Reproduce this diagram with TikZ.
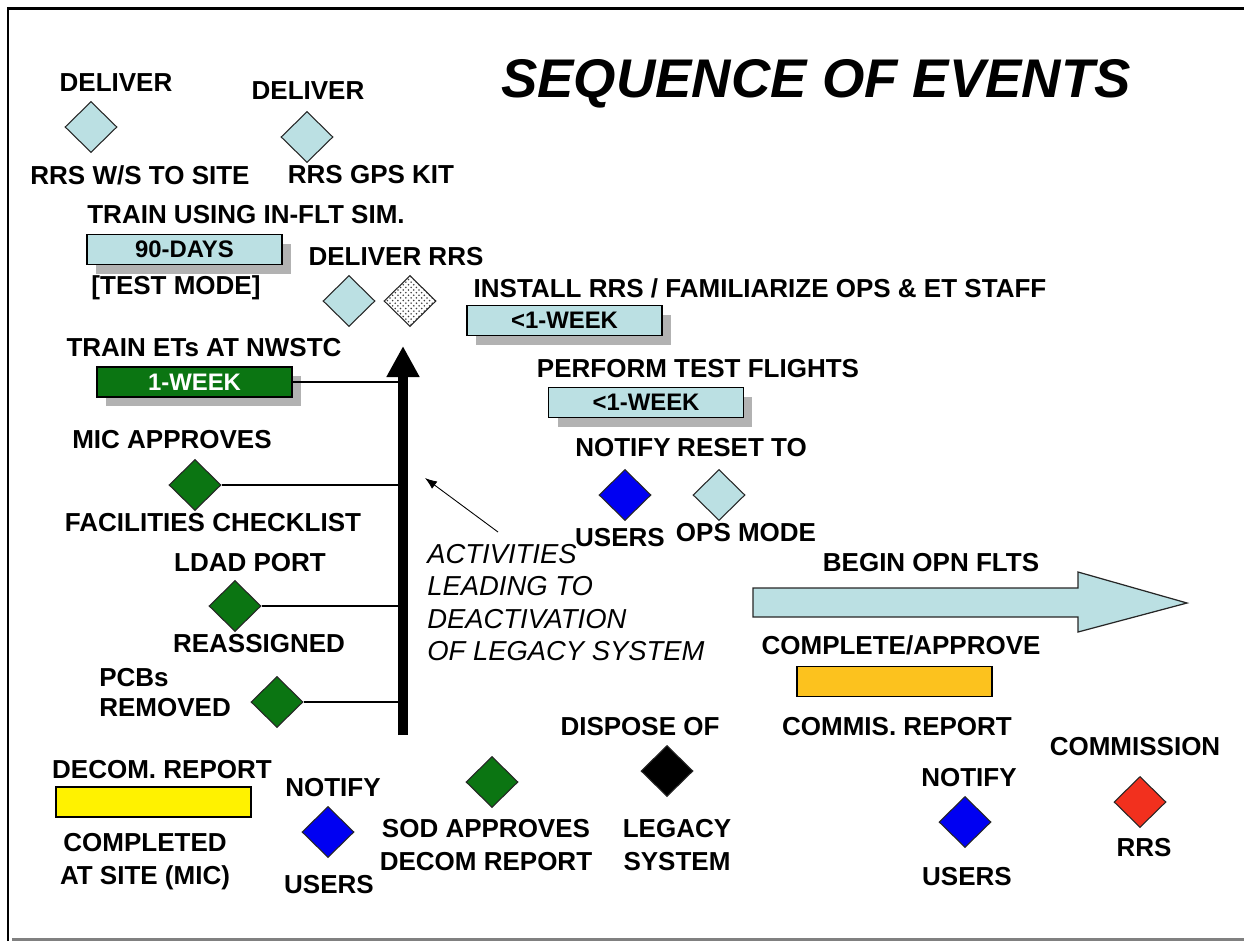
\documentclass[tikz,border=0pt]{standalone}
\usepackage{fontspec}
\setmainfont{Liberation Sans}
\usetikzlibrary{arrows.meta, positioning, shapes.geometric, shadows, patterns}
\definecolor{paleblue}{HTML}{BBE0E3}
\definecolor{dkgreen}{HTML}{0B7512}
\definecolor{pureblue}{HTML}{0000F2}
\definecolor{redevent}{HTML}{F2301E}
\definecolor{amber}{HTML}{FCC21E}

\begin{document}
\begin{tikzpicture}[
    x=0.02cm, y=-0.02cm,
    every node/.style={inner sep=0pt},
    lbl/.style={font=\bfseries\fontsize{14.8}{19}\selectfont},
    evt/.style={diamond, draw=black!85, line width=0.6pt, minimum width=1.04cm, minimum height=1.02cm},
    weekbar/.style={draw=black, line width=1.1pt, minimum width=3.9cm, minimum height=0.6cm, font=\bfseries\fontsize{13.6}{16}\selectfont},
    dropped/.style={drop shadow={shadow xshift=0.18cm, shadow yshift=-0.18cm, fill=black!30, opacity=1}},
    tieline/.style={draw=black, line width=0.7pt}
]
\useasboundingbox (0,0) rectangle (1244,941);
% frame
\draw[line width=1.7pt] (8,941) -- (8,8.5) -- (1244,8.5);
\draw[black!50, line width=1.5pt] (12,939.5) -- (1244,939.5);

\node[font=\bfseries\itshape\fontsize{31}{36}\selectfont] (title) at (816,84) {SEQUENCE OF EVENTS};

% deliveries and training
\node[lbl] (dlv1) at (116,83) {DELIVER};
\node[evt, fill=paleblue] (ws) at (91,127) {};
\node[lbl] (wslbl) at (140,175) {RRS W/S TO SITE};
\node[lbl] (dlv2) at (308,91) {DELIVER};
\node[evt, fill=paleblue] (gps) at (307,137) {};
\node[lbl] (gpslbl) at (371,175) {RRS GPS KIT};
\node[lbl] (sim) at (246,215) {TRAIN USING IN-FLT SIM.};
\node[weekbar, dropped, fill=paleblue] (days) at (184.5,249.5) {90-DAYS};
\node[lbl] (test) at (176,288) {[TEST MODE]};
\node[lbl] (dlv3) at (396,257) {DELIVER RRS};
\node[evt, fill=paleblue] (rrs) at (349,301) {};
\node[evt, pattern=crosshatch dots, pattern color=black!75] (rrsd) at (410,301) {};
\node[lbl] (inst) at (760,288) {INSTALL RRS / FAMILIARIZE OPS \& ET STAFF};
\node[weekbar, dropped, fill=paleblue] (wk1) at (564.5,320.5) {<1-WEEK};
\node[lbl] (perf) at (698,369) {PERFORM TEST FLIGHTS};
\node[weekbar, dropped, fill=paleblue] (wk2) at (646,402.5) {<1-WEEK};
\node[lbl] (ntf1) at (623,448) {NOTIFY};
\node[evt, fill=pureblue] (usr1) at (625,495) {};
\node[lbl] (usr1lbl) at (620,538) {USERS};
\node[lbl] (rst) at (742,448) {RESET TO};
\node[evt, fill=paleblue] (ops) at (719,495) {};
\node[lbl] (opslbl) at (746,533) {OPS MODE};

% legacy system activities
\node[lbl] (ets) at (204,348) {TRAIN ETs AT NWSTC};
\node[weekbar, dropped, fill=dkgreen, text=white] (etw) at (194.5,382) {1-WEEK};
\node[lbl] (mic) at (172,440) {MIC APPROVES};
\node[evt, fill=dkgreen] (fac) at (195,485) {};
\node[lbl] (faclbl) at (213,523) {FACILITIES CHECKLIST};
\node[lbl] (ldad) at (250,563) {LDAD PORT};
\node[evt, fill=dkgreen] (port) at (235,606) {};
\node[lbl] (rea) at (259,644) {REASSIGNED};
\node[lbl, font=\bfseries\fontsize{14.8}{17}\selectfont, align=left, anchor=north west] (pcb) at (99,668) {PCBs\\REMOVED};
\node[evt, fill=dkgreen] (pcbd) at (277,702) {};

\coordinate (abot) at (403,735);
\coordinate (atop) at (403,346);
\draw[line width=0.21cm, -{Triangle[length=0.62cm, width=0.62cm]}] (abot) -- (atop);

\draw[tieline] (etw.east) -- (etw.east -| abot);
\draw[tieline] (fac.east) -- (fac.east -| abot);
\draw[tieline] (port.east) -- (port.east -| abot);
\draw[tieline] (pcbd.east) -- (pcbd.east -| abot);

\node[font=\itshape\fontsize{15.6}{18.4}\selectfont, align=left, anchor=north west] (act) at (427,544) {ACTIVITIES\\LEADING TO\\DEACTIVATION\\OF LEGACY SYSTEM};
\coordinate (actfrom) at (498,532);
\coordinate (actto) at (425,478);
\draw[line width=0.5pt, -{Latex[length=0.24cm, width=0.18cm]}] (actfrom) -- (actto);

% operations
\node[lbl] (opn) at (931,563) {BEGIN OPN FLTS};
\draw[fill=paleblue, draw=black!85, line width=0.7pt] (753,588) -- (1078,588) -- (1078,572) -- (1187,603) -- (1078,632) -- (1078,617) -- (753,617) -- cycle;
\node[lbl] (cpa) at (901,645) {COMPLETE/APPROVE};
\node[weekbar, fill=amber] (crep) at (894.5,681.5) {};
\node[lbl] (crlbl) at (897,727) {COMMIS. REPORT};
\node[lbl] (com) at (1135,747) {COMMISSION};
\node[evt, fill=redevent] (rrsc) at (1140,802) {};
\node[lbl] (rrslbl) at (1144,848) {RRS};
\node[lbl] (ntf3) at (969,778) {NOTIFY};
\node[evt, fill=pureblue] (usr3) at (965,822) {};
\node[lbl] (usr3lbl) at (967,877) {USERS};

% decommissioning
\node[lbl] (dec) at (162,770) {DECOM. REPORT};
\node[weekbar, fill=yellow] (drep) at (153.5,802) {};
\node[lbl, align=center, anchor=north] (site) at (145,833) {COMPLETED\\AT SITE (MIC)};
\node[lbl] (ntf2) at (333,788) {NOTIFY};
\node[evt, fill=pureblue] (usr2) at (328,832) {};
\node[lbl] (usr2lbl) at (329,885) {USERS};
\node[evt, fill=dkgreen] (sod) at (492,782) {};
\node[lbl, align=center, anchor=north] (sodlbl) at (486,819) {SOD APPROVES\\DECOM REPORT};
\node[lbl] (disp) at (640,727) {DISPOSE OF};
\node[evt, fill=black] (leg) at (667,771) {};
\node[lbl, align=center, anchor=north] (leglbl) at (677,819) {LEGACY\\SYSTEM};
\end{tikzpicture}
\end{document}
